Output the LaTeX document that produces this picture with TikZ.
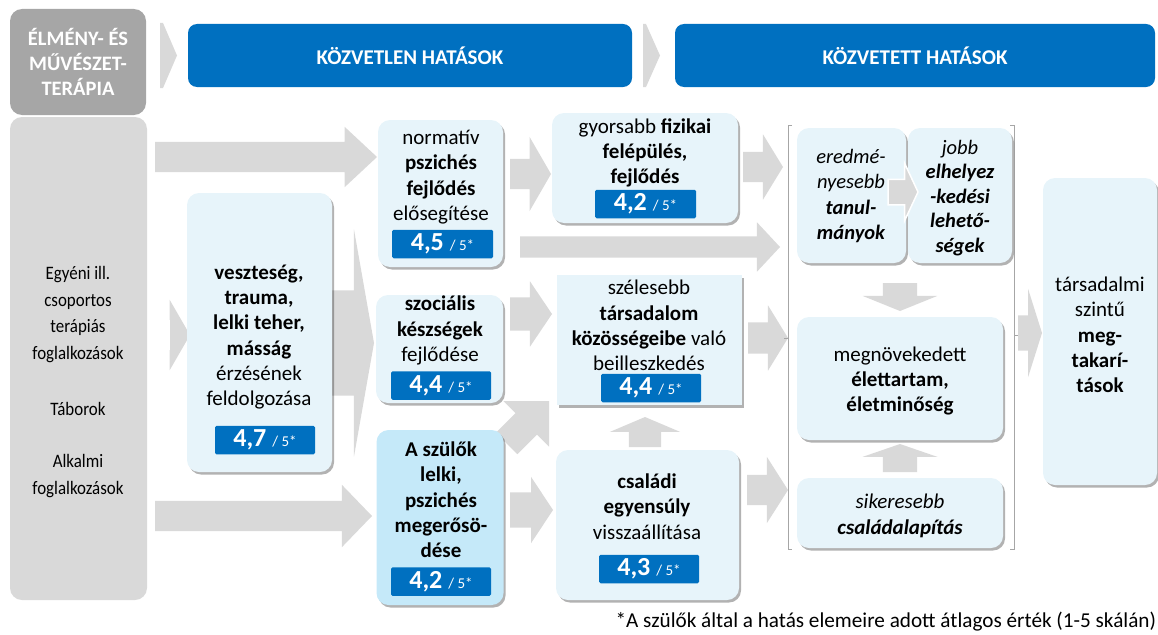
\documentclass[tikz,border=0pt]{standalone}
\usepackage{fontspec}
\setmainfont{Carlito}
\newfontfamily\narrowfont{Carlito}[FakeStretch=0.89]
\usepackage{tikz}
\usetikzlibrary{positioning,shapes.arrows,shadows}

\definecolor{hatasblue}{HTML}{0070C0}
\definecolor{terapiagray}{HTML}{A6A6A6}
\definecolor{sidegray}{HTML}{D9D9D9}
\definecolor{arrowgray}{HTML}{D9D9D9}
\definecolor{cellblue}{HTML}{E7F4FA}
\definecolor{parentblue}{HTML}{C5E9F9}
\newcommand{\ertek}[1]{{\fontsize{26}{26}\selectfont\bfseries #1}\hspace{6pt}{\fontsize{15}{15}\selectfont/ 5*}}

\begin{document}
\begin{tikzpicture}[x=1pt,y=-1pt,
    every node/.style={inner sep=0pt,outer sep=0pt},
    cell/.style={rounded corners=12pt,fill=cellblue,drop shadow={shadow xshift=2pt,shadow yshift=-2.5pt,fill=black,opacity=.3}},
    celltext/.style={align=center,font=\fontsize{21}{25.3}\selectfont},
    badge/.style={fill=hatasblue,text=white,rounded corners=1.5pt,minimum height=28.5},
    header/.style={rounded corners=9pt,fill=hatasblue,text=white,minimum height=63,font=\bfseries\fontsize{21}{24}\selectfont},
    bigarrow/.style={single arrow,fill=arrowgray,anchor=tip},
    bracketline/.style={draw=terapiagray,line width=0.8pt}]
    \useasboundingbox (0,0) rectangle (1158,634);

    \node[rounded corners=12pt,fill=terapiagray,minimum width=136,minimum height=106,text=white,align=center,font=\bfseries\fontsize{20.5}{25}\selectfont] (therapy) at (78,62) {ÉLMÉNY- ÉS\\MŰVÉSZET-\\TERÁPIA};
    \node[rounded corners=12pt,fill=sidegray,minimum width=137,minimum height=483] (methods) at (78.5,358.5) {};
    \node[align=center,font=\narrowfont\fontsize{19}{26.7}\selectfont] (methodstext) at (78,382) {Egyéni ill.\\csoportos\\terápiás\\foglalkozások\\[29pt]Táborok\\[26pt]Alkalmi\\foglalkozások};
    \fill[arrowgray] (160,23) -- (163,23) -- (177,55.5) -- (163,88) -- (160,88) -- cycle;
    \node[header,minimum width=444] (direct) at (410,55.5) {KÖZVETLEN HATÁSOK};
    \fill[arrowgray] (643,24) -- (646,24) -- (660,55.5) -- (646,87) -- (643,87) -- cycle;
    \node[header,minimum width=480] (indirect) at (915,55.5) {KÖZVETETT HATÁSOK};

    \node[bigarrow,minimum height=222,inner ysep=15,single arrow head extend=15,single arrow tip angle=86] (a1) at (377,157) {};
    \node[bigarrow,minimum height=20,inner ysep=15,single arrow head extend=20,single arrow tip angle=120] (a2) at (190,335) {};
    \node[bigarrow,minimum height=217,inner ysep=15,single arrow head extend=16,single arrow tip angle=92] (a3) at (372,516) {};
    \node[bigarrow,minimum height=54,inner ysep=52.5,single arrow head extend=61,single arrow tip angle=160] (fan) at (374,343) {};
    \node[bigarrow,minimum height=41,inner ysep=15,single arrow head extend=22,single arrow tip angle=120] (b1) at (551,174) {};
    \node[bigarrow,minimum height=260,inner ysep=10.5,single arrow head extend=14,single arrow tip angle=94] (b2) at (780,247) {};
    \node[bigarrow,minimum height=42,inner ysep=16.5,single arrow head extend=16,single arrow tip angle=112] (b3) at (552,314) {};
    \node[bigarrow,rotate=45,minimum height=60,inner ysep=15,single arrow head extend=17,single arrow tip angle=90] (b4) at (549,401) {};
    \node[bigarrow,minimum height=43,inner ysep=17.5,single arrow head extend=15.5,single arrow tip angle=113] (b5) at (553,510) {};
    \node[bigarrow,minimum height=40,inner ysep=15,single arrow head extend=17.5,single arrow tip angle=117] (c1) at (783,167) {};
    \node[bigarrow,minimum height=40,inner ysep=15.5,single arrow head extend=17,single arrow tip angle=117] (c2) at (788,338) {};
    \node[bigarrow,minimum height=41,inner ysep=15,single arrow head extend=18,single arrow tip angle=115] (c3) at (788,490) {};
    \node[bigarrow,rotate=90,minimum height=30,inner ysep=16,single arrow head extend=19,single arrow tip angle=134] (u1) at (645,417) {};
    \node[bigarrow,rotate=-90,minimum height=28,inner ysep=17,single arrow head extend=20,single arrow tip angle=136] (d1) at (900,311) {};
    \node[bigarrow,rotate=90,minimum height=28,inner ysep=17,single arrow head extend=20.5,single arrow tip angle=142] (u2) at (900,444) {};
    \node[bigarrow,minimum height=24,inner ysep=17.5,single arrow head extend=26.5,single arrow tip angle=145] (g1) at (1042,333) {};

    \node[cell,minimum width=145,minimum height=279] (loss) at (259.5,332.5) {};
    \node[celltext] (losstext) at (259,337) {\textbf{veszteség,}\\\textbf{trauma,}\\\textbf{lelki teher,}\\\textbf{másság}\\érzésének\\feldolgozása};
    \node[badge,minimum width=100] (lossscore) at (265,440) {\ertek{4,7}};

    \node[cell,minimum width=125,minimum height=147] (norm) at (440.5,193.5) {};
    \node[celltext] (normtext) at (441,177) {normatív\\\textbf{pszichés}\\\textbf{fejlődés}\\elősegítése};
    \node[badge,minimum width=101] (normscore) at (442.5,244) {\ertek{4,5}};

    \node[cell,minimum width=127,minimum height=108] (social) at (439.5,349) {};
    \node[celltext] (socialtext) at (440,330.5) {\textbf{szociális}\\\textbf{készségek}\\fejlődése};
    \node[badge,minimum width=100] (socialscore) at (441,385.5) {\ertek{4,4}};

    \node[cell,fill=parentblue,minimum width=127,minimum height=175] (parent) at (440,517.5) {};
    \node[celltext] (parenttext) at (441,500) {\textbf{A szülők}\\\textbf{lelki,}\\\textbf{pszichés}\\\textbf{megerősö-}\\\textbf{dése}};
    \node[badge,minimum width=100] (parentscore) at (441,581.5) {\ertek{4,2}};

    \node[cell,minimum width=186,minimum height=110] (phys) at (645,168) {};
    \node[celltext] (phystext) at (645,153) {gyorsabb \textbf{fizikai}\\\textbf{felépülés,}\\\textbf{fejlődés}};
    \node[badge,minimum width=101] (physscore) at (645.5,204) {\ertek{4,2}};

    \node[cell,rounded corners=0pt,minimum width=185,minimum height=130] (society) at (649.5,340) {};
    \node[celltext] (societytext) at (649,325.5) {szélesebb\\\textbf{társadalom}\\\textbf{közösségeibe} való\\beilleszkedés};
    \node[badge,minimum width=100] (societyscore) at (651,388) {\ertek{4,4}};

    \node[cell,minimum width=183,minimum height=150] (family) at (647.5,525) {};
    \node[celltext] (familytext) at (647,506.5) {\textbf{családi}\\\textbf{egyensúly}\\visszaállítása};
    \node[badge,minimum width=100] (familyscore) at (649,569) {\ertek{4,3}};

    \draw[bracketline] (792,125) -- (788,125) -- (788,549) -- (792,549) (788,338) -- (784,338);
    \draw[bracketline] (1010,125) -- (1014,125) -- (1014,549) -- (1010,549) (1014,335) -- (1018,335);

    \node[cell,minimum width=109,minimum height=135] (study) at (851.5,195.5) {};
    \node[celltext,font=\itshape\fontsize{20.5}{25.3}\selectfont] (studytext) at (851,196) {eredmé-\\nyesebb\\\textbf{tanul-}\\\textbf{mányok}};
    \node[cell,minimum width=104,minimum height=135] (job) at (960,195.5) {};
    \node[celltext,font=\itshape\fontsize{20.5}{24.5}\selectfont] (jobtext) at (960,198) {jobb\\\textbf{elhelyez}\\\textbf{-kedési}\\\textbf{lehető-}\\\textbf{ségek}};
    \node[bigarrow,draw=white,line width=1.5pt,minimum height=30,inner ysep=12,single arrow head extend=16,single arrow tip angle=130] (e1) at (918,192) {};

    \node[cell,minimum width=206,minimum height=123] (life) at (900,378.5) {};
    \node[celltext] (lifetext) at (900,381) {megnövekedett\\\textbf{élettartam,}\\\textbf{életminőség}};
    \node[cell,minimum width=206,minimum height=70] (found) at (900,513) {};
    \node[celltext,font=\itshape\fontsize{21}{25.3}\selectfont] (foundtext) at (900,516) {sikeresebb\\\textbf{családalapítás}};

    \node[cell,minimum width=114,minimum height=307] (saving) at (1100,331.5) {};
    \node[celltext] (savingtext) at (1100,335) {társadalmi\\szintű\\\textbf{meg-}\\\textbf{takarí-}\\\textbf{tások}};

    \node[anchor=east,font=\fontsize{21.2}{21}\selectfont] (note) at (1156,622) {*A szülők által a hatás elemeire adott átlagos érték (1-5 skálán)};
\end{tikzpicture}
\end{document}
